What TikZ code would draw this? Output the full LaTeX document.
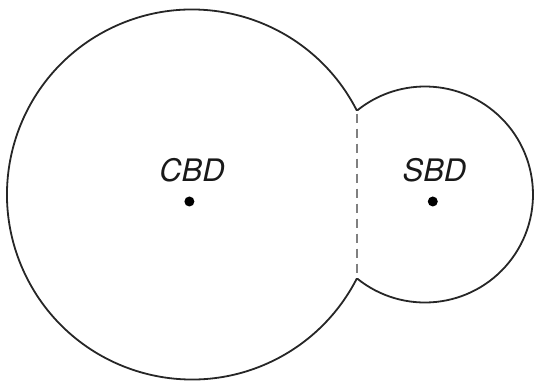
\documentclass[tikz,border=0pt]{standalone}
\usepackage{fontspec}
\setsansfont{TeX Gyre Heros}
\begin{document}
\begin{tikzpicture}[x=1pt,y=1pt,
  outline/.style={draw=black!85,line width=1.8pt,line join=miter},
  boundary/.style={draw=black!50,line width=1.6pt,dash pattern=on 9pt off 6pt},
  label/.style={anchor=base,font=\fontsize{31}{31}\selectfont\sffamily\itshape,text=black!90,inner sep=0pt},
  centre/.style={circle,fill=black,inner sep=0pt,minimum size=10pt}]
\useasboundingbox (0,0) rectangle (535,380);
\coordinate (top) at (356.9,269.34);
\coordinate (bot) at (356.9,101.66);
\draw[outline] (top) arc[start angle=26.95,end angle=333.05,radius=185pt]
  arc[start angle=230.92,end angle=489.08,radius=108pt] -- cycle;
\draw[draw=white,line width=2.5pt] (top) -- (bot);
\draw[boundary] ([yshift=-3pt]top) -- ([yshift=3pt]bot);
\node[label] (cbd) at (192,198) {CBD};
\node[label] (sbd) at (434.5,198) {SBD};
\node[centre] (c1) at (189.4,178.5) {};
\node[centre] (c2) at (432.8,178.5) {};
\end{tikzpicture}
\end{document}
